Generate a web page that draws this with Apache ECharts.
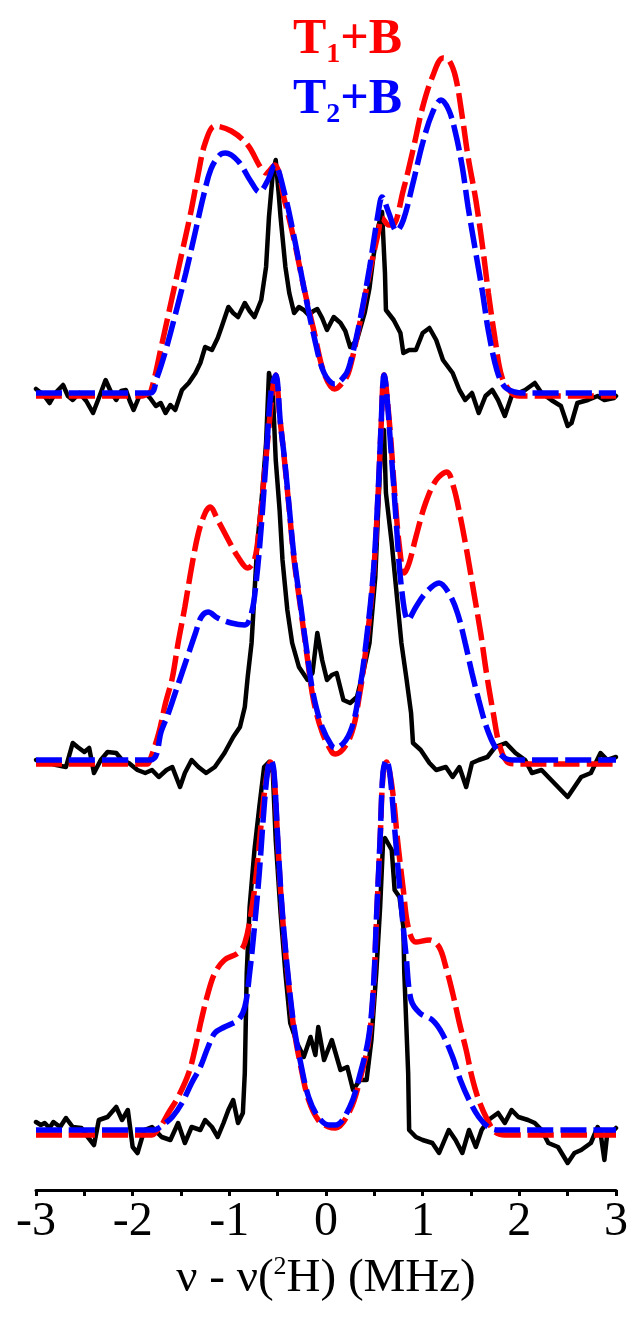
<!DOCTYPE html>
<html>
<head>
<meta charset="utf-8">
<script src="https://cdn.jsdelivr.net/npm/echarts@6/dist/echarts.min.js"></script>
<style>
html,body{margin:0;padding:0;background:#fff;}
#chart{width:631px;height:1327px;}
</style>
</head>
<body>
<div id="chart"></div>
<script>
// x axis ticks (MHz)
const xTicks = [-3, -2, -1, 0, 1, 2, 3];
const legendNames = ['T1+B', 'T2+B'];

// ---- top spectrum ----
const expTop = [[-3.0,4],[-2.98,6],[-2.92,-2],[-2.86,-10],[-2.80,0],[-2.72,8],[-2.67,-3],[-2.62,-7],[-2.55,0],[-2.48,-8],[-2.41,-20],[-2.35,-5],[-2.28,13],[-2.22,0],[-2.17,-7],[-2.12,2],[-2.07,3],[-2.03,-8],[-1.99,-17],[-1.93,-3],[-1.87,0],[-1.82,-5],[-1.76,-13],[-1.71,-10],[-1.66,-20],[-1.61,-12],[-1.56,-17],[-1.49,3],[-1.42,10],[-1.35,20],[-1.30,30],[-1.25,46],[-1.18,43],[-1.12,55],[-1.08,66],[-1.01,86],[-0.96,80],[-0.91,76],[-0.84,90],[-0.79,82],[-0.74,76],[-0.67,93],[-0.62,126],[-0.59,176],[-0.55,220],[-0.52,233],[-0.49,200],[-0.47,176],[-0.42,126],[-0.38,100],[-0.33,80],[-0.28,86],[-0.23,83],[-0.18,78],[-0.13,82],[-0.09,84],[-0.04,75],[0.01,63],[0.08,76],[0.15,70],[0.20,62],[0.25,46],[0.32,53],[0.40,80],[0.45,105],[0.49,136],[0.54,166],[0.58,181],[0.61,120],[0.62,83],[0.70,73],[0.77,60],[0.80,40],[0.86,43],[0.93,43],[1.0,60],[1.07,65],[1.14,53],[1.21,33],[1.31,20],[1.38,3],[1.44,-7],[1.51,0],[1.58,-20],[1.65,-3],[1.72,3],[1.78,-7],[1.85,-23],[1.92,-3],[1.99,0],[2.06,3],[2.16,10],[2.23,0],[2.33,-7],[2.43,-13],[2.50,-33],[2.54,-30],[2.60,-10],[2.71,-7],[2.81,-3],[2.88,-7],[2.98,-5],[3.0,-3]];
const simT1Top = [[-3,-3],[-1.9,-3],[-1.85,-1],[-1.81,2],[-1.70,48],[-1.60,92],[-1.50,136],[-1.40,180],[-1.32,220],[-1.25,250],[-1.15,267],[-0.98,262],[-0.81,248],[-0.68,226],[-0.62,220],[-0.53,228],[-0.43,193],[-0.33,153],[-0.23,106],[-0.12,60],[-0.02,20],[0.09,4],[0.2,14],[0.25,26],[0.35,70],[0.45,120],[0.54,160],[0.58,175],[0.65,168],[0.69,168],[0.80,203],[0.90,243],[1.0,286],[1.10,316],[1.21,335],[1.27,333],[1.34,316],[1.41,276],[1.47,236],[1.55,193],[1.62,146],[1.68,100],[1.75,53],[1.82,16],[1.92,0],[2.0,-3],[3,-3]];
const simT2Top = [[-3,0],[-1.82,0],[-1.75,15],[-1.66,42],[-1.56,78],[-1.45,120],[-1.35,162],[-1.27,196],[-1.19,224],[-1.10,238],[-1.04,240],[-0.91,232],[-0.78,212],[-0.69,201],[-0.6,213],[-0.53,228],[-0.43,200],[-0.33,156],[-0.23,106],[-0.12,55],[-0.02,20],[0.09,9],[0.2,18],[0.25,30],[0.35,72],[0.45,125],[0.54,180],[0.58,196],[0.65,180],[0.73,162],[0.80,173],[0.90,210],[1.0,250],[1.10,280],[1.19,293],[1.27,283],[1.34,260],[1.41,226],[1.47,186],[1.55,140],[1.62,100],[1.68,62],[1.77,22],[1.85,6],[1.95,1],[2.05,0],[3,0]];

// ---- middle spectrum ----
const expMid = [[-3.0,0],[-2.94,-1],[-2.89,-2],[-2.79,-5],[-2.69,-7],[-2.62,17],[-2.57,13],[-2.50,8],[-2.45,12],[-2.40,-13],[-2.33,0],[-2.26,8],[-2.17,7],[-2.11,0],[-2.04,-3],[-1.95,-10],[-1.87,-13],[-1.80,-10],[-1.73,-17],[-1.65,-10],[-1.59,-7],[-1.51,-27],[-1.46,-13],[-1.39,0],[-1.32,-7],[-1.24,-13],[-1.15,-7],[-1.05,7],[-0.96,23],[-0.89,33],[-0.84,53],[-0.81,83],[-0.77,117],[-0.74,167],[-0.71,217],[-0.66,267],[-0.62,317],[-0.59,387],[-0.55,367],[-0.52,300],[-0.48,250],[-0.45,200],[-0.40,150],[-0.35,117],[-0.28,93],[-0.19,80],[-0.14,87],[-0.09,127],[-0.04,100],[0.01,80],[0.06,85],[0.11,87],[0.18,60],[0.25,57],[0.32,63],[0.39,90],[0.45,117],[0.51,183],[0.54,250],[0.57,317],[0.60,330],[0.62,267],[0.68,217],[0.73,167],[0.78,117],[0.83,83],[0.88,47],[0.90,17],[0.98,10],[1.07,-3],[1.14,-10],[1.24,-7],[1.31,-17],[1.38,-7],[1.45,-27],[1.51,-3],[1.58,0],[1.67,3],[1.75,13],[1.86,17],[1.96,7],[2.06,0],[2.13,-13],[2.23,-10],[2.33,-20],[2.40,-27],[2.50,-37],[2.57,-27],[2.64,-17],[2.74,-13],[2.84,7],[2.91,0],[3.0,3]];
const simT1Mid = [[-3,-4],[-1.85,-4],[-1.82,0],[-1.73,27],[-1.66,57],[-1.59,82],[-1.53,117],[-1.46,153],[-1.39,193],[-1.32,227],[-1.25,247],[-1.20,253],[-1.12,240],[-1.01,220],[-0.91,203],[-0.81,192],[-0.74,200],[-0.69,233],[-0.64,283],[-0.59,333],[-0.55,372],[-0.52,385],[-0.48,345],[-0.43,300],[-0.38,250],[-0.33,200],[-0.26,150],[-0.19,100],[-0.13,60],[-0.04,28],[0.06,8],[0.10,6],[0.25,23],[0.35,67],[0.42,117],[0.49,183],[0.54,267],[0.57,333],[0.60,385],[0.66,333],[0.71,267],[0.76,213],[0.81,187],[0.86,197],[0.93,223],[1.03,257],[1.14,280],[1.25,288],[1.32,273],[1.39,243],[1.46,207],[1.53,167],[1.60,127],[1.66,87],[1.73,47],[1.80,13],[1.89,-3],[2.0,-4],[3,-4]];
const simT2Mid = [[-3,0],[-1.82,0],[-1.70,30],[-1.63,47],[-1.56,67],[-1.49,87],[-1.42,107],[-1.35,127],[-1.29,143],[-1.22,148],[-1.12,142],[-0.98,137],[-0.84,135],[-0.77,147],[-0.72,180],[-0.67,233],[-0.62,300],[-0.57,367],[-0.52,385],[-0.47,335],[-0.43,302],[-0.38,252],[-0.33,203],[-0.26,153],[-0.19,103],[-0.13,65],[-0.04,33],[0.06,14],[0.10,12],[0.25,28],[0.35,72],[0.42,122],[0.49,188],[0.54,270],[0.57,335],[0.60,385],[0.68,300],[0.73,233],[0.78,173],[0.85,140],[0.93,153],[1.03,167],[1.17,177],[1.27,167],[1.36,147],[1.44,117],[1.51,87],[1.58,60],[1.66,33],[1.75,13],[1.85,2],[1.95,0],[3,0]];

// ---- bottom spectrum ----
const expBot = [[-3.0,8],[-2.99,10],[-2.95,5],[-2.91,7],[-2.86,2],[-2.82,8],[-2.75,3],[-2.69,12],[-2.62,3],[-2.53,2],[-2.48,-5],[-2.40,-15],[-2.35,10],[-2.26,13],[-2.17,23],[-2.11,10],[-2.05,20],[-2.0,-17],[-1.95,-23],[-1.88,0],[-1.80,3],[-1.70,-7],[-1.61,-10],[-1.53,7],[-1.46,-13],[-1.39,3],[-1.30,0],[-1.25,10],[-1.18,3],[-1.12,-7],[-1.06,7],[-1.01,20],[-0.96,30],[-0.91,7],[-0.86,17],[-0.84,57],[-0.82,157],[-0.79,223],[-0.74,280],[-0.69,323],[-0.64,363],[-0.59,368],[-0.55,357],[-0.52,290],[-0.47,217],[-0.42,157],[-0.37,107],[-0.30,87],[-0.23,73],[-0.16,93],[-0.11,75],[-0.08,103],[-0.02,70],[0.06,90],[0.15,60],[0.22,63],[0.28,40],[0.35,50],[0.42,50],[0.47,90],[0.52,157],[0.56,223],[0.59,287],[0.61,292],[0.68,280],[0.71,240],[0.76,233],[0.80,203],[0.81,157],[0.83,107],[0.85,57],[0.86,0],[0.93,-7],[1.0,-10],[1.10,-13],[1.17,-23],[1.27,0],[1.34,-10],[1.41,-23],[1.48,0],[1.55,-17],[1.61,0],[1.68,10],[1.78,17],[1.85,7],[1.92,20],[1.99,13],[2.09,10],[2.16,7],[2.23,0],[2.30,-13],[2.40,-17],[2.50,-33],[2.57,-23],[2.64,-20],[2.74,-13],[2.81,3],[2.84,-3],[2.88,-30],[2.91,-3],[2.98,0],[3.0,2]];
const simT1Bot = [[-3,-5],[-1.80,-5],[-1.76,-2],[-1.70,5],[-1.63,17],[-1.53,33],[-1.42,57],[-1.35,83],[-1.29,110],[-1.22,137],[-1.15,157],[-1.05,170],[-0.91,177],[-0.84,187],[-0.77,220],[-0.72,257],[-0.67,307],[-0.62,350],[-0.575,368],[-0.54,357],[-0.50,290],[-0.47,240],[-0.43,190],[-0.38,140],[-0.33,100],[-0.26,63],[-0.18,30],[-0.08,10],[0.03,3],[0.10,2],[0.25,20],[0.35,50],[0.44,88],[0.49,138],[0.52,205],[0.56,290],[0.59,355],[0.625,368],[0.66,357],[0.70,330],[0.74,290],[0.80,240],[0.85,203],[0.93,188],[1.07,190],[1.17,183],[1.24,163],[1.31,137],[1.38,107],[1.45,80],[1.51,53],[1.58,30],[1.67,10],[1.75,-2],[1.85,-5],[3,-5]];
const simT2Bot = [[-3,0],[-1.78,0],[-1.73,2],[-1.66,7],[-1.59,13],[-1.49,27],[-1.39,47],[-1.30,63],[-1.22,83],[-1.15,97],[-1.05,103],[-0.91,110],[-0.84,123],[-0.79,157],[-0.74,203],[-0.69,257],[-0.64,323],[-0.60,362],[-0.57,370],[-0.54,360],[-0.50,293],[-0.47,243],[-0.43,193],[-0.38,143],[-0.33,103],[-0.26,66],[-0.18,33],[-0.08,13],[0.03,5],[0.10,5],[0.25,24],[0.35,55],[0.44,92],[0.49,142],[0.52,208],[0.56,292],[0.59,358],[0.625,370],[0.66,357],[0.72,290],[0.78,223],[0.83,173],[0.88,130],[0.97,117],[1.10,110],[1.20,97],[1.31,73],[1.39,50],[1.48,30],[1.58,13],[1.68,3],[1.78,0],[3,0]];

// stacking offsets of the three spectra (vertical placement, y-axis units)
const panelOffset = [797, 430, 60];
const panels = [
  {exp: expTop, t1: simT1Top, t2: simT2Top},
  {exp: expMid, t1: simT1Mid, t2: simT2Mid},
  {exp: expBot, t1: simT1Bot, t2: simT2Bot}
];

const RED = '#ff0000', BLUE = '#0000ff', BLACK = '#000000';
const SERIF = '"Liberation Serif","Times New Roman",serif';
const DASH = [26, 7];

function shift(arr, off) { return arr.map(p => [p[0], p[1] + off]); }

const series = [];
panels.forEach((p, i) => {
  const off = panelOffset[i];
  series.push({
    type: 'line', name: 'exp' + i, data: shift(p.exp, off), symbol: 'none', smooth: false,
    lineStyle: {color: BLACK, width: 4.5, join: 'round', cap: 'round'}, z: 2
  });
  series.push({
    type: 'line', name: legendNames[0], data: shift(p.t1, off), symbol: 'none', smooth: 0.35,
    lineStyle: {color: RED, width: 5.5, type: DASH}, z: 3
  });
  series.push({
    type: 'line', name: legendNames[1], data: shift(p.t2, off), symbol: 'none', smooth: 0.35,
    lineStyle: {color: BLUE, width: 5.5, type: DASH}, z: 4
  });
});

function legendTitle(color, sub, top) {
  return {
    text: '{a|T}{b|' + sub + '}{a|+B}',
    left: 288, top: top,
    textStyle: {
      rich: {
        a: {fontFamily: SERIF, fontWeight: 'bold', fontSize: 50, color: color, lineHeight: 58},
        b: {fontFamily: SERIF, fontWeight: 'bold', fontSize: 28, color: color, verticalAlign: 'bottom', lineHeight: 28}
      }
    }
  };
}

const chart = echarts.init(document.getElementById('chart'), null, {renderer: 'canvas'});
chart.setOption({
  animation: false,
  backgroundColor: '#ffffff',
  title: [legendTitle(RED, '1', 6), legendTitle(BLUE, '2', 66)],
  grid: {left: 36, right: 9, top: 0, bottom: 137, containLabel: false},
  xAxis: {
    type: 'value', min: xTicks[0], max: xTicks[xTicks.length - 1], interval: 1,
    axisLine: {show: true, onZero: false, lineStyle: {color: BLACK, width: 3}},
    axisTick: {show: true, inside: false, length: 6, lineStyle: {color: BLACK, width: 3}},
    minorTick: {show: true, splitNumber: 2, length: 6, lineStyle: {color: BLACK, width: 3}},
    splitLine: {show: false},
    axisLabel: {fontFamily: SERIF, fontSize: 48, color: BLACK, margin: 8},
    name: '{a|\u03bd - \u03bd(}{s|2}{a|H) (MHz)}',
    nameLocation: 'middle', nameGap: 64,
    nameTextStyle: {
      rich: {
        a: {fontFamily: SERIF, fontSize: 47, color: BLACK, lineHeight: 50},
        s: {fontFamily: SERIF, fontSize: 26, color: BLACK, verticalAlign: 'top', lineHeight: 26}
      }
    }
  },
  yAxis: {type: 'value', min: 0, max: 1190, show: false},
  series: series
});
</script>
</body>
</html>
